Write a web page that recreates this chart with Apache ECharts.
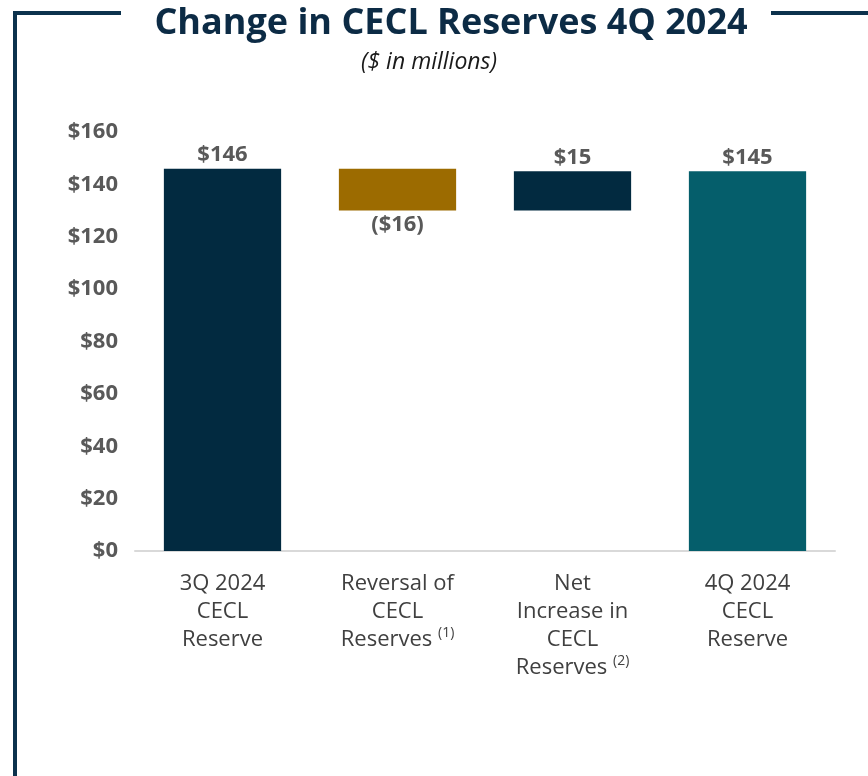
<!DOCTYPE html>
<html>
<head>
<meta charset="utf-8">
<script src="https://cdn.jsdelivr.net/npm/echarts@6/dist/echarts.min.js"></script>
<style>
  html, body { margin: 0; padding: 0; background: #ffffff; }
  #chart { width: 868px; height: 776px; }
</style>
</head>
<body>
<div id="chart"></div>
<script>
// Waterfall steps ($ in millions)
const categories = [
  '3Q 2024\nCECL\nReserve',
  'Reversal of\nCECL\nReserves {sup|(1)}',
  'Net\nIncrease in\nCECL\nReserves {sup|(2)}',
  '4Q 2024\nCECL\nReserve'
];
const stepValues = [146, -16, 15, 145];
const stepKinds = ['total', 'delta', 'delta', 'total'];
const valueLabels = ['$146', '($16)', '$15', '$145'];
const yTicks = [0, 20, 40, 60, 80, 100, 120, 140, 160];

const barColors = ['#022a40', '#9c6b00', '#022a40', '#055e6b'];

// Build floating base + visible segment for each step
const baseData = [];
const barData = [];
let running = 0;
stepValues.forEach((v, i) => {
  if (stepKinds[i] === 'total') {
    running = v;
    baseData.push(0);
    barData.push({ value: v, itemStyle: { color: barColors[i] },
      label: { position: 'top', formatter: valueLabels[i] } });
  } else {
    const start = running;
    running = start + v;
    const low = Math.min(start, running);
    baseData.push(low);
    barData.push({ value: Math.abs(v), itemStyle: { color: barColors[i] },
      label: { position: v < 0 ? 'bottom' : 'top', formatter: valueLabels[i] } });
  }
});

const chart = echarts.init(document.getElementById('chart'), null, { renderer: 'canvas' });
const frameColor = '#0c324d';

chart.setOption({
  backgroundColor: '#ffffff',
  animation: false,
  title: [
    {
      text: 'Change in CECL Reserves 4Q 2024',
      left: 446, top: 1, textAlign: 'center',
      textStyle: { fontFamily: 'Open Sans', fontWeight: 'bold', fontSize: 36, color: '#0c2b45' }
    },
    {
      text: '($ in millions)',
      left: 424, top: 46, textAlign: 'center',
      textStyle: { fontFamily: 'Open Sans', fontStyle: 'italic', fontWeight: 'normal', fontSize: 23, color: '#1a1a1a' }
    }
  ],
  graphic: [
    { type: 'polyline', shape: { points: [[15, 776], [15, 13], [121, 13]] },
      style: { stroke: frameColor, lineWidth: 4, fill: null } },
    { type: 'line', shape: { x1: 771, y1: 13, x2: 868, y2: 13 },
      style: { stroke: frameColor, lineWidth: 4 } }
  ],
  grid: { left: 135, right: 33, top: 132, bottom: 225 },
  xAxis: {
    type: 'category',
    data: categories,
    axisTick: { show: false },
    axisLine: { show: true, lineStyle: { color: '#d9d9d9', width: 2 } },
    axisLabel: {
      margin: 19,
      interval: 0,
      fontFamily: 'Open Sans',
      fontSize: 22,
      lineHeight: 28,
      color: '#404040',
      align: 'center',
      verticalAlign: 'top',
      rich: {
        sup: { fontSize: 14, fontFamily: 'Open Sans', color: '#404040', verticalAlign: 'top', padding: [0, 0, 8, 0] }
      }
    }
  },
  yAxis: {
    type: 'value',
    min: yTicks[0],
    max: yTicks[yTicks.length - 1],
    interval: yTicks[1] - yTicks[0],
    axisLine: { show: false },
    axisTick: { show: false },
    splitLine: { show: false },
    axisLabel: {
      margin: 17,
      fontFamily: 'Open Sans',
      fontWeight: 'bold',
      fontSize: 22,
      color: '#595959',
      formatter: v => '$' + v
    }
  },
  series: [
    {
      type: 'bar', stack: 'w', data: baseData,
      itemStyle: { color: 'transparent' }, silent: true,
      barWidth: '67%'
    },
    {
      type: 'bar', stack: 'w', data: barData,
      barWidth: '67%',
      label: {
        show: true,
        distance: 3,
        fontFamily: 'Open Sans',
        fontWeight: 'bold',
        fontSize: 22,
        color: '#595959'
      }
    }
  ]
});
</script>
</body>
</html>
